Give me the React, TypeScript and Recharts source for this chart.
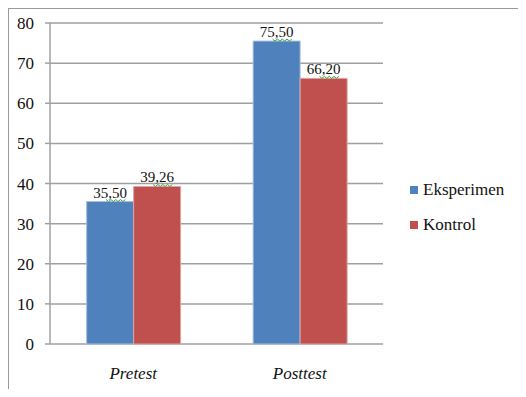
import React from "react";
import {
  Bar,
  BarChart,
  CartesianGrid,
  LabelList,
  XAxis,
  YAxis,
} from "recharts";

const categories = ["Pretest", "Posttest"];
const eksperimen = [35.5, 75.5];
const kontrol = [39.26, 66.2];
const yTicks = [0, 10, 20, 30, 40, 50, 60, 70, 80];
const bandEdges = [0, 1, 2];

const COLORS = {
  eksperimen: "#4F81BD",
  eksperimenEdge: "#a9c0dd",
  kontrol: "#C0504D",
  kontrolEdge: "#dba5a4",
  grid: "#a0a0a0",
  frame: "#9a9a9a",
};

const FONT = '"Liberation Serif", serif';

const data = categories.map((name, i) => ({
  name,
  eksperimen: eksperimen[i],
  kontrol: kontrol[i],
}));

const fmtComma = (v: number) => v.toFixed(2).replace(".", ",");

// data label with the little green spell-check squiggle under the decimals
function ValueLabel(props: any) {
  const { x, y, width, value } = props;
  const cx = x + width / 2;
  const by = y - 4;
  const sx = cx - 4;
  const pts: string[] = [];
  for (let i = 0; i <= 8; i++) {
    pts.push(`${sx + i * 2.4},${by + 2 + (i % 2 === 0 ? 0 : 2)}`);
  }
  return (
    <g>
      <text
        x={cx}
        y={by}
        textAnchor="middle"
        style={{ fontFamily: FONT, fontSize: 15, fill: "#111" }}
      >
        {fmtComma(Number(value))}
      </text>
      <polyline points={pts.join(" ")} fill="none" stroke="#3aa33a" strokeWidth={1} />
    </g>
  );
}

function CategoryTick(props: any) {
  const { x, y, payload } = props;
  return (
    <text
      x={x}
      y={y}
      dy={27}
      textAnchor="middle"
      style={{ fontFamily: FONT, fontSize: 17, fontStyle: "italic", fill: "#111" }}
    >
      {payload.value}
    </text>
  );
}

function ValueTick(props: any) {
  const { x, y, payload } = props;
  return (
    <text
      x={x}
      y={y}
      dy={6}
      textAnchor="end"
      style={{ fontFamily: FONT, fontSize: 17, fill: "#111" }}
    >
      {payload.value}
    </text>
  );
}

function LegendBox() {
  const items = [
    { label: "Eksperimen", color: COLORS.eksperimen },
    { label: "Kontrol", color: COLORS.kontrol },
  ];
  return (
    <div
      style={{
        position: "absolute",
        left: 410,
        top: 172,
        fontFamily: FONT,
        fontSize: 17,
        color: "#111",
      }}
    >
      {items.map((it) => (
        <div
          key={it.label}
          style={{ display: "flex", alignItems: "center", height: 35 }}
        >
          <span
            style={{
              display: "inline-block",
              width: 8,
              height: 8,
              background: it.color,
              marginRight: 5,
            }}
          />
          <span>{it.label}</span>
        </div>
      ))}
    </div>
  );
}

export default function App() {
  return (
    <div
      style={{
        position: "relative",
        width: 526,
        height: 397,
        margin: -8,
        overflow: "hidden",
        background: "#fff",
        fontFamily: FONT,
      }}
    >
      <div style={{ position: "absolute", left: 0, top: 0 }}>
        <BarChart
          width={526}
          height={397}
          data={data}
          barCategoryGap="22%"
          barGap={0}
          margin={{ top: 23, right: 143, left: 0, bottom: 0 }}
        >
          <CartesianGrid
            vertical={false}
            stroke={COLORS.grid}
            strokeWidth={1.5}
          />
          <XAxis
            xAxisId="edges"
            type="number"
            domain={[0, 2]}
            ticks={bandEdges}
            tick={false}
            tickSize={6}
            height={0}
            stroke={COLORS.grid}
            strokeWidth={1.5}
          />
          <XAxis
            dataKey="name"
            height={53}
            axisLine={false}
            tickLine={false}
            tick={<CategoryTick />}
          />
          <YAxis
            domain={[0, 80]}
            ticks={yTicks}
            width={50}
            tickSize={5}
            tickMargin={11}
            stroke={COLORS.grid}
            strokeWidth={1.5}
            tick={<ValueTick />}
          />
          <Bar
            dataKey="eksperimen"
            name="Eksperimen"
            fill={COLORS.eksperimen}
            stroke={COLORS.eksperimenEdge}
            strokeWidth={1}
            isAnimationActive={false}
          >
            <LabelList dataKey="eksperimen" content={<ValueLabel />} />
          </Bar>
          <Bar
            dataKey="kontrol"
            name="Kontrol"
            fill={COLORS.kontrol}
            stroke={COLORS.kontrolEdge}
            strokeWidth={1}
            isAnimationActive={false}
          >
            <LabelList dataKey="kontrol" content={<ValueLabel />} />
          </Bar>
        </BarChart>
      </div>
      <LegendBox />
      <div
        style={{
          position: "absolute",
          left: 7,
          top: 7,
          width: 600,
          height: 500,
          borderTop: `2px solid ${COLORS.frame}`,
          borderLeft: `2px solid ${COLORS.frame}`,
          pointerEvents: "none",
        }}
      />
    </div>
  );
}
